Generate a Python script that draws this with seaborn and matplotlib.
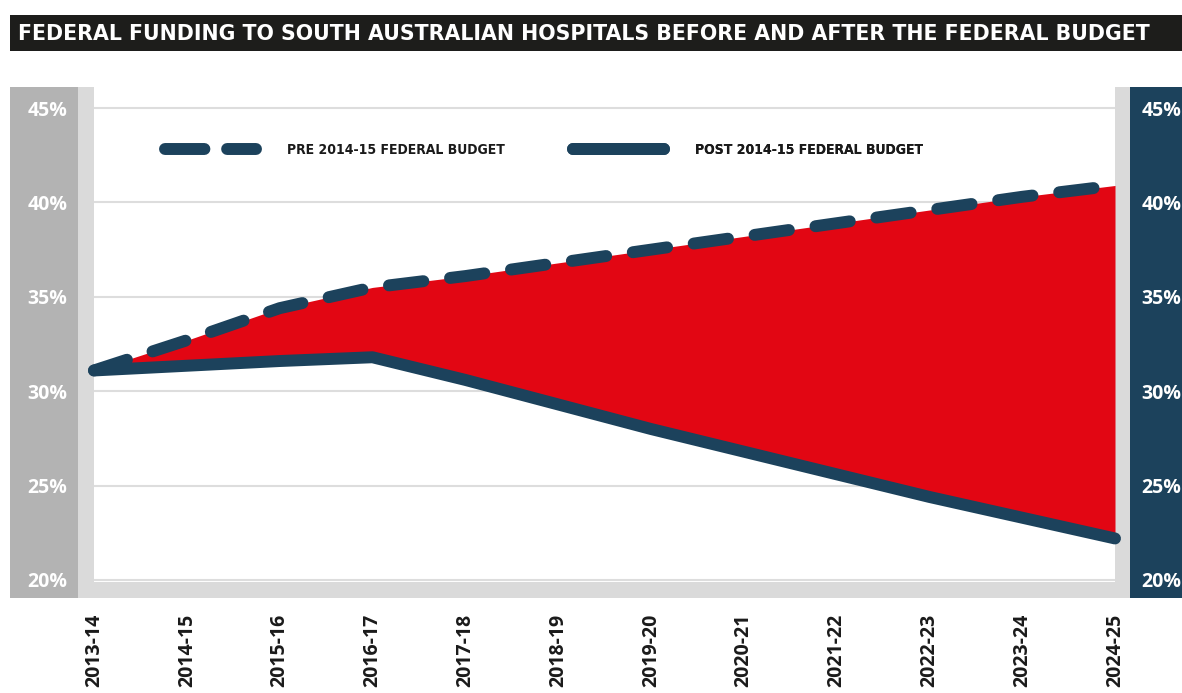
import numpy as np
import pandas as pd
import matplotlib.pyplot as plt
import seaborn as sns
from matplotlib.patches import Rectangle
from matplotlib.lines import Line2D
from matplotlib import font_manager

# data (percent of hospital funding)
years = ["2013-14", "2014-15", "2015-16", "2016-17", "2017-18", "2018-19",
         "2019-20", "2020-21", "2021-22", "2022-23", "2023-24", "2024-25"]
pre_budget = [31.1, 32.7, 34.4, 35.5, 36.1, 36.8, 37.5, 38.2, 38.9, 39.6, 40.3, 40.9]
post_budget = [31.1, 31.35, 31.6, 31.8, 30.6, 29.3, 28.0, 26.8, 25.6, 24.4, 23.3, 22.2]
y_ticks = [20, 25, 30, 35, 40, 45]
labels = ["PRE 2014-15 FEDERAL BUDGET", "POST 2014-15 FEDERAL BUDGET"]

NAVY = "#1c425c"
RED = "#e20613"
DARK_GREY = "#b3b3b3"
LIGHT_GREY = "#dadada"

# pick a condensed face for the legend if one is installed
fonts = font_manager.fontManager.ttflist
condensed = [f.name for f in fonts if "condensed" in str(f.stretch) or "Narrow" in f.name
             or "Condensed" in f.name]
if "Liberation Sans Narrow" in condensed:
    leg_font = {"family": "Liberation Sans Narrow", "weight": "bold", "size": 11.3}
elif "DejaVu Sans" in condensed:
    leg_font = {"family": "DejaVu Sans", "stretch": "condensed", "weight": "bold", "size": 10}
else:
    leg_font = {"family": "Roboto", "weight": "bold", "size": 10}

df = pd.DataFrame({"pos": np.arange(len(years)), "year": years,
                   "pre": pre_budget, "post": post_budget})

sns.set_style("white")
plt.rcParams["font.family"] = ["Open Sans", "DejaVu Sans"]

W, H = 1182, 693
fig = plt.figure(figsize=(W / 100, H / 100), dpi=100)
ax = fig.add_axes([94 / W, 1 - 582 / H, (1115 - 94) / W, (582 - 87) / H])


def band(x0, y0, x1, y1, color, z=-2):
    # rectangle in pixel coords (top-left origin)
    fig.patches.append(Rectangle((x0 / W, 1 - y1 / H), (x1 - x0) / W, (y1 - y0) / H,
                                 transform=fig.transFigure, facecolor=color,
                                 edgecolor="none", zorder=z))


# title bar
band(10, 15, W, 51, "#1d1d1b")
fig.text(18 / W, 1 - 33.5 / H, "FEDERAL FUNDING TO SOUTH AUSTRALIAN HOSPITALS BEFORE AND AFTER THE FEDERAL BUDGET",
         color="white", fontsize=14.8, fontweight="bold", family=["DejaVu Sans"],
         va="center", ha="left")

# side bands
band(10, 87, 78, 598, DARK_GREY)
band(78, 87, 94, 598, LIGHT_GREY)
band(78, 582, 1130, 598, LIGHT_GREY)
band(1115, 87, 1130, 598, LIGHT_GREY)
band(1130, 87, W, 598, NAVY)

# red gap between the two series
ax.fill_between(df["pos"], df["post"], df["pre"], color=RED, linewidth=0, zorder=2)

sns.lineplot(data=df, x="pos", y="pre", ax=ax, color=NAVY, linewidth=8.6,
             dash_capstyle="round", solid_capstyle="round", clip_on=False, zorder=4)
ax.lines[-1].set_dashes((2.9, 2.25))
sns.lineplot(data=df, x="pos", y="post", ax=ax, color=NAVY, linewidth=8.6,
             solid_capstyle="round", solid_joinstyle="round", clip_on=False, zorder=4)

ax.set_xlim(0, len(years) - 1)
ax.set_ylim(20 - 2 / 18.8, 45 + 21 / 18.8)
ax.set_xlabel("")
ax.set_ylabel("")

ax.set_xticks(df["pos"])
ax.set_xticklabels(years, rotation=90, fontsize=14, fontweight="bold", color="#1a1a1a")
ax.tick_params(axis="x", direction="in", length=12, width=1.5, color=LIGHT_GREY, pad=23)

ax.set_yticks(y_ticks)
ax.set_yticklabels([f"{v}%" for v in y_ticks], fontsize=14, fontweight="bold")
ax.tick_params(axis="y", length=0, labelcolor="white", labelright=True, pad=19)
for t in ax.get_yticklabels(which="both"):
    t.set_color("white")
ax.yaxis.grid(True, color="#dddddd", linewidth=1.5)
ax.xaxis.grid(False)
for s in ax.spines.values():
    s.set_visible(False)

# legend (two separate blocks like the original)
fs_px = leg_font["size"] * 100 / 72
h_pre = Line2D([], [], color=NAVY, linewidth=8.6, dash_capstyle="round")
h_pre.set_dashes((3.3, 1.9))
h_post = Line2D([], [], color=NAVY, linewidth=8.6, solid_capstyle="round")
for handle, lab, xa in [(h_pre, labels[0], 0.070), (h_post, labels[1], 0.4696)]:
    leg = ax.legend([handle], [lab], loc="center left", bbox_to_anchor=(xa, 0.873),
                    frameon=False, prop=leg_font, handlelength=91 / fs_px,
                    handletextpad=31 / fs_px, borderpad=0, borderaxespad=0)
    for txt in leg.get_texts():
        txt.set_color("#1a1a1a")
    ax.add_artist(leg)

fig.savefig("out.png", dpi=100)
